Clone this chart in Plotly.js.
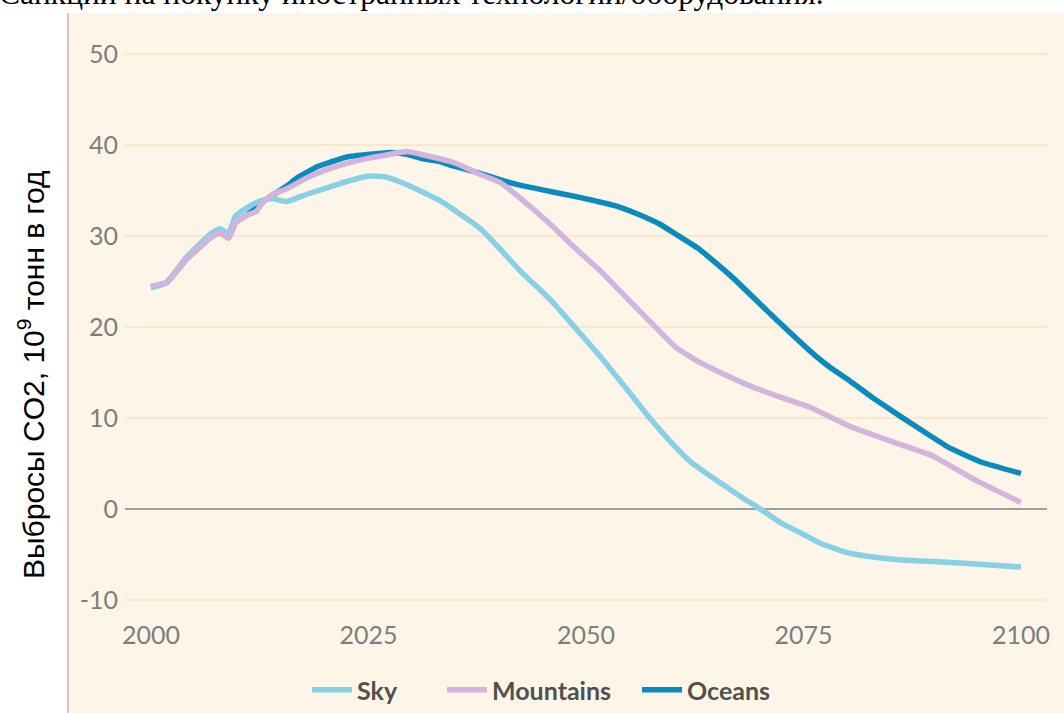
<!DOCTYPE html>
<html>
<head>
<meta charset="utf-8">
<script src="https://cdn.plot.ly/plotly-3.0.1.min.js"></script>
<style>html,body{margin:0;padding:0;background:#fff;}#chart{width:1064px;height:713px;}</style>
</head>
<body>
<div id="chart"></div>
<script>
// ---- data ----
const seriesNames = ["Sky", "Mountains", "Oceans"];

const skyYears = [2000, 2001.8, 2004, 2006.8, 2007.9, 2008.9, 2009.7, 2011, 2012.1, 2013, 2014, 2015.6, 2017.9, 2020.2, 2022.5, 2025, 2027, 2028.5, 2030, 2031.5, 2033.2, 2034.5, 2036, 2038, 2040, 2042.4, 2046, 2048.5, 2051.6, 2055, 2057.4, 2060, 2062, 2064, 2066, 2068, 2069.2, 2070.8, 2072.5, 2074.6, 2077, 2080, 2083, 2086, 2090, 2094, 2100];
const skyValues = [24.3, 24.9, 27.6, 30.2, 30.8, 30.3, 32.2, 33.1, 33.7, 34.0, 34.1, 33.8, 34.6, 35.3, 36.0, 36.6, 36.5, 36.0, 35.4, 34.7, 33.9, 33.1, 32.1, 30.7, 28.7, 26.2, 22.9, 20.2, 16.8, 12.8, 9.9, 7.1, 5.2, 3.8, 2.5, 1.2, 0.5, -0.5, -1.6, -2.6, -3.8, -4.8, -5.3, -5.6, -5.8, -6.0, -6.4];

const mountainsYears = [2000, 2001.8, 2004.1, 2006.8, 2007.9, 2008.9, 2009.7, 2011, 2012.1, 2012.9, 2014, 2015.6, 2017.9, 2020.2, 2022.5, 2025.2, 2027.5, 2029.4, 2031, 2033.2, 2034.4, 2036, 2037.8, 2040.1, 2042.4, 2045.9, 2048.5, 2051.6, 2055.4, 2058.9, 2060.4, 2063.1, 2065, 2068.9, 2072, 2075.7, 2080.5, 2086.1, 2089.9, 2094.9, 2100];
const mountainsValues = [24.5, 24.9, 27.5, 29.8, 30.4, 29.8, 31.5, 32.3, 32.7, 33.8, 34.6, 35.2, 36.4, 37.3, 38.0, 38.6, 39.0, 39.3, 39.0, 38.5, 38.2, 37.6, 36.8, 35.9, 34.2, 31.3, 28.9, 26.2, 22.5, 19.1, 17.7, 16.1, 15.2, 13.5, 12.4, 11.2, 9.0, 7.1, 5.8, 3.1, 0.7];

const oceansYears = [2000, 2001.8, 2004.1, 2006.8, 2007.9, 2008.9, 2009.7, 2011, 2012.9, 2014, 2015.6, 2016.8, 2017.9, 2019, 2020.2, 2022.5, 2025.2, 2027.5, 2029.4, 2031.3, 2033.2, 2034.4, 2037.8, 2040.1, 2042.4, 2045.9, 2048.5, 2050.5, 2053.5, 2056, 2058.5, 2060.5, 2063.1, 2066.9, 2070.8, 2073, 2075.7, 2078, 2080.3, 2083, 2086.1, 2089, 2091.8, 2095.6, 2100];
const oceansValues = [24.4, 24.9, 27.5, 29.8, 30.4, 29.8, 31.5, 32.3, 33.8, 34.5, 35.5, 36.4, 37.0, 37.6, 38.0, 38.7, 39.0, 39.2, 39.0, 38.5, 38.2, 37.8, 36.9, 36.2, 35.6, 34.9, 34.4, 34.0, 33.3, 32.4, 31.3, 30.1, 28.5, 25.4, 21.8, 19.8, 17.4, 15.6, 14.1, 12.2, 10.2, 8.4, 6.7, 5.1, 3.9];

const xTickVals = [2000, 2025, 2050, 2075, 2100];
const xTickText = ["2000", "2025", "2050", "2075", "2100"];
const yTickVals = [-10, 0, 10, 20, 30, 40, 50];
const yTickText = ["-10", "0", "10", "20", "30", "40", "50"];

const yAxisTitle = "Выбросы CO2, 10<sup>9</sup> тонн в год";
const topCaption = "Санкции на покупку иностранных технологий/оборудования.";

// ---- traces (drawn bottom to top: Oceans, Sky, Mountains) ----
const lineShape = {shape: "spline", smoothing: 0.4};
const traces = [
  {x: oceansYears, y: oceansValues, name: seriesNames[2], type: "scatter", mode: "lines",
   line: Object.assign({color: "#0a8bbf", width: 5.5}, lineShape), legend: "legend3"},
  {x: skyYears, y: skyValues, name: seriesNames[0], type: "scatter", mode: "lines",
   line: Object.assign({color: "#88d0e6", width: 5.5}, lineShape), legend: "legend"},
  {x: mountainsYears, y: mountainsValues, name: seriesNames[1], type: "scatter", mode: "lines",
   line: Object.assign({color: "#d2b4dc", width: 5.5}, lineShape), legend: "legend2"}
];

const W = 1064, H = 713, mL = 125, mR = 17, mT = 36, mB = 95;
const pw = W - mL - mR, ph = H - mT - mB;
const px = v => (v - mL) / pw;        // pixel x -> paper
const py = v => (H - mB - v) / ph;    // pixel y -> paper

const legendFont = {family: "Lato, 'DejaVu Sans', sans-serif", size: 25, color: "#505050", weight: "bold"};
const mkLegend = xpix => ({
  orientation: "h", x: px(xpix), xanchor: "left", y: py(690), yanchor: "middle",
  font: legendFont, bgcolor: "rgba(0,0,0,0)", itemwidth: 40
});

const layout = {
  width: W, height: H,
  margin: {l: mL, r: mR, t: mT, b: mB, pad: 0, autoexpand: false},
  paper_bgcolor: "#ffffff",
  plot_bgcolor: "rgba(0,0,0,0)",
  showlegend: true,
  legend: mkLegend(307),
  legend2: mkLegend(442),
  legend3: mkLegend(637),
  xaxis: {
    range: [1997, 2103], tickmode: "array", tickvals: xTickVals, ticktext: xTickText,
    showgrid: false, zeroline: false, showline: false, ticks: "", automargin: false,
    tickfont: {family: "Lato, 'DejaVu Sans', sans-serif", size: 25, color: "#7d7d7d"}
  },
  yaxis: {
    range: [-12, 52], tickmode: "array", tickvals: yTickVals, ticktext: yTickText,
    showgrid: true, gridcolor: "#fbe8c8", gridwidth: 1.5,
    zeroline: true, zerolinecolor: "#a29f99", zerolinewidth: 2.5, automargin: false,
    showline: false, ticks: "", ticklabelstandoff: 6,
    tickfont: {family: "Lato, 'DejaVu Sans', sans-serif", size: 25, color: "#7d7d7d"}
  },
  shapes: [
    {type: "rect", xref: "paper", yref: "paper", x0: px(68), x1: px(1080), y0: py(720), y1: py(13),
     fillcolor: "#fdf6e8", line: {width: 0}, layer: "below"},
    {type: "line", xref: "paper", yref: "paper", x0: px(68), x1: px(68), y0: py(720), y1: py(13),
     line: {color: "#bdb7ae", width: 1.5}, layer: "below"}
  ],
  annotations: [
    {text: yAxisTitle, xref: "paper", yref: "paper", x: px(31), y: py(375),
     xanchor: "center", yanchor: "middle", textangle: -90, showarrow: false,
     font: {family: "'Liberation Sans', Arial, sans-serif", size: 30, color: "#000000"}},
    {text: topCaption, xref: "paper", yref: "paper", x: px(-3), y: py(-7),
     xanchor: "left", yanchor: "middle", showarrow: false,
     font: {family: "'Liberation Serif', 'Times New Roman', serif", size: 31.5, color: "#000000"}}
  ]
};

Plotly.newPlot("chart", traces, layout, {displayModeBar: false, staticPlot: true});
</script>
</body>
</html>
